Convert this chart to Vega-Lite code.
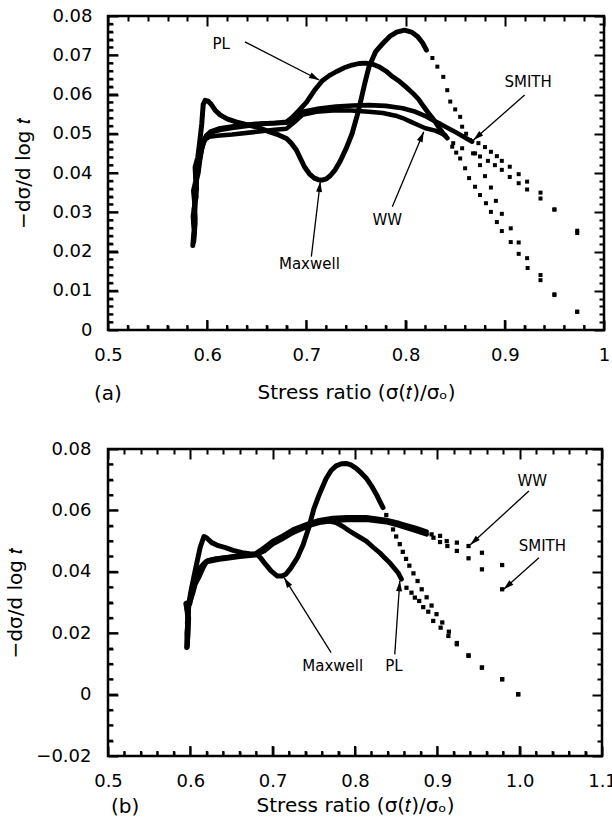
{
"$schema": "https://vega.github.io/schema/vega-lite/v6.json",
"padding": {"left": 4, "top": 5, "right": 0, "bottom": 4},
"spacing": 32,
"background": "white",
"config": {
 "view": {"stroke": "black", "strokeWidth": 2.5},
 "font": "DejaVu Sans",
 "axis": {"grid": false, "domain": false, "ticks": false, "labelFont": "DejaVu Sans", "labelFontSize": 18, "labelColor": "black", "labelFontWeight": "normal", "titleFont": "DejaVu Sans", "titleFontSize": 20, "titleFontWeight": "normal", "titleColor": "black", "labelFlush": false, "labelOverlap": false}
},
"datasets": {
 "aXT": [
  {"v":0.5,"k":"major"},{"v":0.6,"k":"major"},{"v":0.7,"k":"major"},{"v":0.8,"k":"major"},{"v":0.9,"k":"major"},{"v":1,"k":"major"},
  {"v":0.52,"k":"minor"},{"v":0.54,"k":"minor"},{"v":0.56,"k":"minor"},{"v":0.58,"k":"minor"},{"v":0.62,"k":"minor"},{"v":0.64,"k":"minor"},{"v":0.66,"k":"minor"},{"v":0.68,"k":"minor"},{"v":0.72,"k":"minor"},{"v":0.74,"k":"minor"},{"v":0.76,"k":"minor"},{"v":0.78,"k":"minor"},{"v":0.82,"k":"minor"},{"v":0.84,"k":"minor"},{"v":0.86,"k":"minor"},{"v":0.88,"k":"minor"},{"v":0.92,"k":"minor"},{"v":0.94,"k":"minor"},{"v":0.96,"k":"minor"},{"v":0.98,"k":"minor"}
 ],
 "aYT": [
  {"v":0,"k":"major"},{"v":0.01,"k":"major"},{"v":0.02,"k":"major"},{"v":0.03,"k":"major"},{"v":0.04,"k":"major"},{"v":0.05,"k":"major"},{"v":0.06,"k":"major"},{"v":0.07,"k":"major"},{"v":0.08,"k":"major"},
  {"v":0.002,"k":"minor"},{"v":0.004,"k":"minor"},{"v":0.006,"k":"minor"},{"v":0.008,"k":"minor"},{"v":0.012,"k":"minor"},{"v":0.014,"k":"minor"},{"v":0.016,"k":"minor"},{"v":0.018,"k":"minor"},{"v":0.022,"k":"minor"},{"v":0.024,"k":"minor"},{"v":0.026,"k":"minor"},{"v":0.028,"k":"minor"},{"v":0.032,"k":"minor"},{"v":0.034,"k":"minor"},{"v":0.036,"k":"minor"},{"v":0.038,"k":"minor"},{"v":0.042,"k":"minor"},{"v":0.044,"k":"minor"},{"v":0.046,"k":"minor"},{"v":0.048,"k":"minor"},{"v":0.052,"k":"minor"},{"v":0.054,"k":"minor"},{"v":0.056,"k":"minor"},{"v":0.058,"k":"minor"},{"v":0.062,"k":"minor"},{"v":0.064,"k":"minor"},{"v":0.066,"k":"minor"},{"v":0.068,"k":"minor"},{"v":0.072,"k":"minor"},{"v":0.074,"k":"minor"},{"v":0.076,"k":"minor"},{"v":0.078,"k":"minor"}
 ],
 "bXT": [
  {"v":0.5,"k":"major"},{"v":0.6,"k":"major"},{"v":0.7,"k":"major"},{"v":0.8,"k":"major"},{"v":0.9,"k":"major"},{"v":1,"k":"major"},{"v":1.1,"k":"major"},
  {"v":0.52,"k":"minor"},{"v":0.54,"k":"minor"},{"v":0.56,"k":"minor"},{"v":0.58,"k":"minor"},{"v":0.62,"k":"minor"},{"v":0.64,"k":"minor"},{"v":0.66,"k":"minor"},{"v":0.68,"k":"minor"},{"v":0.72,"k":"minor"},{"v":0.74,"k":"minor"},{"v":0.76,"k":"minor"},{"v":0.78,"k":"minor"},{"v":0.82,"k":"minor"},{"v":0.84,"k":"minor"},{"v":0.86,"k":"minor"},{"v":0.88,"k":"minor"},{"v":0.92,"k":"minor"},{"v":0.94,"k":"minor"},{"v":0.96,"k":"minor"},{"v":0.98,"k":"minor"},{"v":1.02,"k":"minor"},{"v":1.04,"k":"minor"},{"v":1.06,"k":"minor"},{"v":1.08,"k":"minor"}
 ],
 "bYT": [
  {"v":-0.02,"k":"major"},{"v":0,"k":"major"},{"v":0.02,"k":"major"},{"v":0.04,"k":"major"},{"v":0.06,"k":"major"},{"v":0.08,"k":"major"},
  {"v":-0.015,"k":"minor"},{"v":-0.01,"k":"minor"},{"v":-0.005,"k":"minor"},{"v":0.005,"k":"minor"},{"v":0.01,"k":"minor"},{"v":0.015,"k":"minor"},{"v":0.025,"k":"minor"},{"v":0.03,"k":"minor"},{"v":0.035,"k":"minor"},{"v":0.045,"k":"minor"},{"v":0.05,"k":"minor"},{"v":0.055,"k":"minor"},{"v":0.065,"k":"minor"},{"v":0.07,"k":"minor"},{"v":0.075,"k":"minor"}
 ],
 "aLine": [
  {"s":"Maxwell","x":0.5855,"y":0.0215},{"s":"Maxwell","x":0.5868,"y":0.0255},{"s":"Maxwell","x":0.5858,"y":0.029},{"s":"Maxwell","x":0.5875,"y":0.032},{"s":"Maxwell","x":0.5862,"y":0.0355},{"s":"Maxwell","x":0.5885,"y":0.038},{"s":"Maxwell","x":0.5878,"y":0.0415},{"s":"Maxwell","x":0.5905,"y":0.044},{"s":"Maxwell","x":0.5925,"y":0.048},{"s":"Maxwell","x":0.5945,"y":0.0525},{"s":"Maxwell","x":0.596,"y":0.0575},{"s":"Maxwell","x":0.598,"y":0.0585},{"s":"Maxwell","x":0.601,"y":0.0583},{"s":"Maxwell","x":0.604,"y":0.0575},{"s":"Maxwell","x":0.608,"y":0.056},{"s":"Maxwell","x":0.613,"y":0.0548},{"s":"Maxwell","x":0.62,"y":0.0538},{"s":"Maxwell","x":0.629,"y":0.053},{"s":"Maxwell","x":0.64,"y":0.0523},{"s":"Maxwell","x":0.649,"y":0.0518},{"s":"Maxwell","x":0.663,"y":0.0505},{"s":"Maxwell","x":0.672,"y":0.0497},{"s":"Maxwell","x":0.68,"y":0.0488},{"s":"Maxwell","x":0.685,"y":0.0475},{"s":"Maxwell","x":0.69,"y":0.0458},{"s":"Maxwell","x":0.694,"y":0.0437},{"s":"Maxwell","x":0.698,"y":0.0416},{"s":"Maxwell","x":0.703,"y":0.0398},{"s":"Maxwell","x":0.708,"y":0.0387},{"s":"Maxwell","x":0.712,"y":0.0383},{"s":"Maxwell","x":0.716,"y":0.0382},{"s":"Maxwell","x":0.72,"y":0.0385},{"s":"Maxwell","x":0.724,"y":0.0393},{"s":"Maxwell","x":0.729,"y":0.0408},{"s":"Maxwell","x":0.734,"y":0.043},{"s":"Maxwell","x":0.74,"y":0.0462},{"s":"Maxwell","x":0.746,"y":0.05},{"s":"Maxwell","x":0.751,"y":0.0545},{"s":"Maxwell","x":0.755,"y":0.0586},{"s":"Maxwell","x":0.759,"y":0.063},{"s":"Maxwell","x":0.763,"y":0.067},{"s":"Maxwell","x":0.77,"y":0.071},{"s":"Maxwell","x":0.777,"y":0.073},{"s":"Maxwell","x":0.784,"y":0.0748},{"s":"Maxwell","x":0.791,"y":0.0759},{"s":"Maxwell","x":0.799,"y":0.0764},{"s":"Maxwell","x":0.806,"y":0.0759},{"s":"Maxwell","x":0.812,"y":0.0748},{"s":"Maxwell","x":0.817,"y":0.0732},{"s":"Maxwell","x":0.821,"y":0.0713},
  {"s":"PL","x":0.5865,"y":0.0225},{"s":"PL","x":0.5878,"y":0.027},{"s":"PL","x":0.5868,"y":0.031},{"s":"PL","x":0.589,"y":0.034},{"s":"PL","x":0.5882,"y":0.037},{"s":"PL","x":0.591,"y":0.04},{"s":"PL","x":0.5925,"y":0.043},{"s":"PL","x":0.5945,"y":0.046},{"s":"PL","x":0.597,"y":0.0485},{"s":"PL","x":0.6,"y":0.0497},{"s":"PL","x":0.605,"y":0.0505},{"s":"PL","x":0.613,"y":0.051},{"s":"PL","x":0.625,"y":0.0515},{"s":"PL","x":0.64,"y":0.052},{"s":"PL","x":0.655,"y":0.0525},{"s":"PL","x":0.668,"y":0.0527},{"s":"PL","x":0.68,"y":0.053},{"s":"PL","x":0.686,"y":0.0542},{"s":"PL","x":0.692,"y":0.0558},{"s":"PL","x":0.7,"y":0.058},{"s":"PL","x":0.708,"y":0.061},{"s":"PL","x":0.716,"y":0.0635},{"s":"PL","x":0.723,"y":0.0648},{"s":"PL","x":0.73,"y":0.0658},{"s":"PL","x":0.738,"y":0.0668},{"s":"PL","x":0.746,"y":0.0675},{"s":"PL","x":0.753,"y":0.0679},{"s":"PL","x":0.76,"y":0.068},{"s":"PL","x":0.767,"y":0.0677},{"s":"PL","x":0.773,"y":0.0671},{"s":"PL","x":0.78,"y":0.066},{"s":"PL","x":0.787,"y":0.0645},{"s":"PL","x":0.794,"y":0.0633},{"s":"PL","x":0.8,"y":0.062},{"s":"PL","x":0.807,"y":0.0604},{"s":"PL","x":0.813,"y":0.0588},{"s":"PL","x":0.818,"y":0.057},{"s":"PL","x":0.823,"y":0.0553},{"s":"PL","x":0.828,"y":0.0537},{"s":"PL","x":0.833,"y":0.0518},{"s":"PL","x":0.838,"y":0.05},{"s":"PL","x":0.842,"y":0.0489},
  {"s":"WW","x":0.5872,"y":0.025},{"s":"WW","x":0.5862,"y":0.028},{"s":"WW","x":0.588,"y":0.0315},{"s":"WW","x":0.587,"y":0.0345},{"s":"WW","x":0.5895,"y":0.0375},{"s":"WW","x":0.5888,"y":0.04},{"s":"WW","x":0.5915,"y":0.0425},{"s":"WW","x":0.5935,"y":0.045},{"s":"WW","x":0.5955,"y":0.047},{"s":"WW","x":0.598,"y":0.0485},{"s":"WW","x":0.602,"y":0.0492},{"s":"WW","x":0.61,"y":0.0495},{"s":"WW","x":0.625,"y":0.0498},{"s":"WW","x":0.65,"y":0.0505},{"s":"WW","x":0.668,"y":0.051},{"s":"WW","x":0.68,"y":0.0513},{"s":"WW","x":0.688,"y":0.053},{"s":"WW","x":0.696,"y":0.0548},{"s":"WW","x":0.71,"y":0.0556},{"s":"WW","x":0.73,"y":0.056},{"s":"WW","x":0.745,"y":0.0559},{"s":"WW","x":0.763,"y":0.0556},{"s":"WW","x":0.777,"y":0.0553},{"s":"WW","x":0.79,"y":0.0546},{"s":"WW","x":0.797,"y":0.054},{"s":"WW","x":0.805,"y":0.0531},{"s":"WW","x":0.812,"y":0.0523},{"s":"WW","x":0.82,"y":0.0514},{"s":"WW","x":0.83,"y":0.0508},{"s":"WW","x":0.84,"y":0.0496},
  {"s":"SMITH","x":0.5865,"y":0.0235},{"s":"SMITH","x":0.588,"y":0.0285},{"s":"SMITH","x":0.5873,"y":0.033},{"s":"SMITH","x":0.5895,"y":0.036},{"s":"SMITH","x":0.5885,"y":0.039},{"s":"SMITH","x":0.591,"y":0.0415},{"s":"SMITH","x":0.593,"y":0.0445},{"s":"SMITH","x":0.5955,"y":0.0475},{"s":"SMITH","x":0.599,"y":0.0495},{"s":"SMITH","x":0.603,"y":0.0505},{"s":"SMITH","x":0.613,"y":0.0514},{"s":"SMITH","x":0.63,"y":0.052},{"s":"SMITH","x":0.649,"y":0.0525},{"s":"SMITH","x":0.665,"y":0.0527},{"s":"SMITH","x":0.68,"y":0.0528},{"s":"SMITH","x":0.688,"y":0.0542},{"s":"SMITH","x":0.696,"y":0.0556},{"s":"SMITH","x":0.713,"y":0.0564},{"s":"SMITH","x":0.73,"y":0.0569},{"s":"SMITH","x":0.747,"y":0.0572},{"s":"SMITH","x":0.763,"y":0.0573},{"s":"SMITH","x":0.78,"y":0.0571},{"s":"SMITH","x":0.797,"y":0.0565},{"s":"SMITH","x":0.81,"y":0.0556},{"s":"SMITH","x":0.82,"y":0.0545},{"s":"SMITH","x":0.827,"y":0.0535},{"s":"SMITH","x":0.835,"y":0.0525},{"s":"SMITH","x":0.843,"y":0.0514},{"s":"SMITH","x":0.851,"y":0.0503},{"s":"SMITH","x":0.858,"y":0.0493},{"s":"SMITH","x":0.867,"y":0.048}
 ],
 "aDot": [
  {"s":"Maxwell","x":0.827,"y":0.0693},{"s":"Maxwell","x":0.832,"y":0.0671},{"s":"Maxwell","x":0.838,"y":0.0645},{"s":"Maxwell","x":0.842,"y":0.0611},{"s":"Maxwell","x":0.845,"y":0.0582},{"s":"Maxwell","x":0.85,"y":0.0562},{"s":"Maxwell","x":0.855,"y":0.0543},{"s":"Maxwell","x":0.857,"y":0.0518},{"s":"Maxwell","x":0.861,"y":0.05},{"s":"Maxwell","x":0.865,"y":0.0484},{"s":"Maxwell","x":0.87,"y":0.045},{"s":"Maxwell","x":0.875,"y":0.042},{"s":"Maxwell","x":0.88,"y":0.0392},{"s":"Maxwell","x":0.886,"y":0.0363},{"s":"Maxwell","x":0.891,"y":0.0329},{"s":"Maxwell","x":0.897,"y":0.0296},{"s":"Maxwell","x":0.906,"y":0.0259},{"s":"Maxwell","x":0.914,"y":0.0223},{"s":"Maxwell","x":0.9225,"y":0.0183},{"s":"Maxwell","x":0.936,"y":0.014},{"s":"Maxwell","x":0.95,"y":0.0091},{"s":"Maxwell","x":0.973,"y":0.0047},
  {"s":"PL","x":0.847,"y":0.0467},{"s":"PL","x":0.851,"y":0.0452},{"s":"PL","x":0.855,"y":0.0437},{"s":"PL","x":0.86,"y":0.0412},{"s":"PL","x":0.864,"y":0.0387},{"s":"PL","x":0.87,"y":0.0365},{"s":"PL","x":0.875,"y":0.0344},{"s":"PL","x":0.881,"y":0.0323},{"s":"PL","x":0.886,"y":0.0301},{"s":"PL","x":0.892,"y":0.0275},{"s":"PL","x":0.897,"y":0.0252},{"s":"PL","x":0.906,"y":0.0224},{"s":"PL","x":0.914,"y":0.0194},{"s":"PL","x":0.923,"y":0.0158},{"s":"PL","x":0.936,"y":0.0127},{"s":"PL","x":0.95,"y":0.0089},{"s":"PL","x":0.973,"y":0.0046},
  {"s":"WW","x":0.848,"y":0.0476},{"s":"WW","x":0.857,"y":0.0463},{"s":"WW","x":0.868,"y":0.045},{"s":"WW","x":0.875,"y":0.0442},{"s":"WW","x":0.883,"y":0.0431},{"s":"WW","x":0.89,"y":0.042},{"s":"WW","x":0.897,"y":0.0408},{"s":"WW","x":0.905,"y":0.039},{"s":"WW","x":0.914,"y":0.0374},{"s":"WW","x":0.9225,"y":0.0358},{"s":"WW","x":0.936,"y":0.0335},{"s":"WW","x":0.95,"y":0.0307},{"s":"WW","x":0.973,"y":0.0247},
  {"s":"SMITH","x":0.8734,"y":0.0476},{"s":"SMITH","x":0.88,"y":0.0466},{"s":"SMITH","x":0.886,"y":0.0454},{"s":"SMITH","x":0.892,"y":0.0443},{"s":"SMITH","x":0.897,"y":0.0431},{"s":"SMITH","x":0.905,"y":0.0416},{"s":"SMITH","x":0.914,"y":0.0397},{"s":"SMITH","x":0.9225,"y":0.0378},{"s":"SMITH","x":0.936,"y":0.035},{"s":"SMITH","x":0.95,"y":0.0307},{"s":"SMITH","x":0.973,"y":0.0253}
 ],
 "aText": [
  {"label":"PL","x":0.614,"y":0.0729},{"label":"Maxwell","x":0.703,"y":0.0168},{"label":"WW","x":0.7816,"y":0.028},{"label":"SMITH","x":0.9235,"y":0.0633}
 ],
 "aArrow": [
  {"x":0.638,"y":0.0734,"x2":0.713,"y2":0.0637},{"x":0.705,"y":0.0187,"x2":0.714,"y2":0.0378},{"x":0.7866,"y":0.0314,"x2":0.8183,"y2":0.0505},{"x":0.92,"y":0.0599,"x2":0.8684,"y2":0.0484}
 ],
 "bLine": [
  {"s":"Maxwell","x":0.5955,"y":0.0153},{"s":"Maxwell","x":0.5965,"y":0.019},{"s":"Maxwell","x":0.597,"y":0.023},{"s":"Maxwell","x":0.5975,"y":0.027},{"s":"Maxwell","x":0.599,"y":0.031},{"s":"Maxwell","x":0.601,"y":0.034},{"s":"Maxwell","x":0.604,"y":0.038},{"s":"Maxwell","x":0.608,"y":0.043},{"s":"Maxwell","x":0.612,"y":0.048},{"s":"Maxwell","x":0.6165,"y":0.0515},{"s":"Maxwell","x":0.62,"y":0.051},{"s":"Maxwell","x":0.626,"y":0.0495},{"s":"Maxwell","x":0.634,"y":0.0485},{"s":"Maxwell","x":0.6426,"y":0.0479},{"s":"Maxwell","x":0.652,"y":0.047},{"s":"Maxwell","x":0.663,"y":0.0462},{"s":"Maxwell","x":0.672,"y":0.0459},{"s":"Maxwell","x":0.681,"y":0.0457},{"s":"Maxwell","x":0.686,"y":0.0443},{"s":"Maxwell","x":0.6915,"y":0.0424},{"s":"Maxwell","x":0.698,"y":0.0403},{"s":"Maxwell","x":0.7057,"y":0.0386},{"s":"Maxwell","x":0.711,"y":0.0386},{"s":"Maxwell","x":0.716,"y":0.0392},{"s":"Maxwell","x":0.722,"y":0.0412},{"s":"Maxwell","x":0.73,"y":0.0446},{"s":"Maxwell","x":0.737,"y":0.0488},{"s":"Maxwell","x":0.744,"y":0.0545},{"s":"Maxwell","x":0.75,"y":0.0605},{"s":"Maxwell","x":0.7566,"y":0.0652},{"s":"Maxwell","x":0.7648,"y":0.0703},{"s":"Maxwell","x":0.771,"y":0.073},{"s":"Maxwell","x":0.777,"y":0.0745},{"s":"Maxwell","x":0.7835,"y":0.0752},{"s":"Maxwell","x":0.7893,"y":0.0753},{"s":"Maxwell","x":0.795,"y":0.0748},{"s":"Maxwell","x":0.8015,"y":0.0737},{"s":"Maxwell","x":0.8075,"y":0.0722},{"s":"Maxwell","x":0.8137,"y":0.0705},{"s":"Maxwell","x":0.82,"y":0.068},{"s":"Maxwell","x":0.826,"y":0.0652},{"s":"Maxwell","x":0.83,"y":0.063},{"s":"Maxwell","x":0.834,"y":0.0609},
  {"s":"PL","x":0.5965,"y":0.017},{"s":"PL","x":0.5975,"y":0.021},{"s":"PL","x":0.598,"y":0.025},{"s":"PL","x":0.5945,"y":0.0295},{"s":"PL","x":0.6,"y":0.0305},{"s":"PL","x":0.603,"y":0.033},{"s":"PL","x":0.606,"y":0.036},{"s":"PL","x":0.61,"y":0.038},{"s":"PL","x":0.615,"y":0.041},{"s":"PL","x":0.62,"y":0.0435},{"s":"PL","x":0.63,"y":0.0442},{"s":"PL","x":0.6426,"y":0.0446},{"s":"PL","x":0.66,"y":0.0452},{"s":"PL","x":0.679,"y":0.0457},{"s":"PL","x":0.69,"y":0.0475},{"s":"PL","x":0.7,"y":0.0495},{"s":"PL","x":0.7118,"y":0.051},{"s":"PL","x":0.725,"y":0.053},{"s":"PL","x":0.732,"y":0.0543},{"s":"PL","x":0.744,"y":0.0555},{"s":"PL","x":0.7566,"y":0.0565},{"s":"PL","x":0.767,"y":0.0566},{"s":"PL","x":0.777,"y":0.056},{"s":"PL","x":0.785,"y":0.0548},{"s":"PL","x":0.7933,"y":0.0533},{"s":"PL","x":0.803,"y":0.0517},{"s":"PL","x":0.8137,"y":0.05},{"s":"PL","x":0.822,"y":0.048},{"s":"PL","x":0.83,"y":0.0462},{"s":"PL","x":0.836,"y":0.0446},{"s":"PL","x":0.842,"y":0.043},{"s":"PL","x":0.847,"y":0.0414},{"s":"PL","x":0.8523,"y":0.0397},{"s":"PL","x":0.8564,"y":0.0376},
  {"s":"WW","x":0.596,"y":0.016},{"s":"WW","x":0.5955,"y":0.02},{"s":"WW","x":0.597,"y":0.024},{"s":"WW","x":0.5955,"y":0.028},{"s":"WW","x":0.5985,"y":0.03},{"s":"WW","x":0.6005,"y":0.0315},{"s":"WW","x":0.604,"y":0.035},{"s":"WW","x":0.608,"y":0.039},{"s":"WW","x":0.612,"y":0.0415},{"s":"WW","x":0.618,"y":0.0432},{"s":"WW","x":0.622,"y":0.0438},{"s":"WW","x":0.635,"y":0.0444},{"s":"WW","x":0.6426,"y":0.0447},{"s":"WW","x":0.66,"y":0.0453},{"s":"WW","x":0.679,"y":0.0459},{"s":"WW","x":0.69,"y":0.048},{"s":"WW","x":0.7,"y":0.05},{"s":"WW","x":0.7118,"y":0.0517},{"s":"WW","x":0.725,"y":0.0538},{"s":"WW","x":0.744,"y":0.0558},{"s":"WW","x":0.7566,"y":0.0568},{"s":"WW","x":0.773,"y":0.0575},{"s":"WW","x":0.79,"y":0.0578},{"s":"WW","x":0.8137,"y":0.0578},{"s":"WW","x":0.838,"y":0.0569},{"s":"WW","x":0.8544,"y":0.0558},{"s":"WW","x":0.8748,"y":0.0542},{"s":"WW","x":0.887,"y":0.0531},
  {"s":"SMITH","x":0.5965,"y":0.0155},{"s":"SMITH","x":0.597,"y":0.0195},{"s":"SMITH","x":0.5962,"y":0.0235},{"s":"SMITH","x":0.598,"y":0.027},{"s":"SMITH","x":0.5948,"y":0.0298},{"s":"SMITH","x":0.5995,"y":0.0295},{"s":"SMITH","x":0.602,"y":0.033},{"s":"SMITH","x":0.606,"y":0.037},{"s":"SMITH","x":0.61,"y":0.04},{"s":"SMITH","x":0.616,"y":0.0425},{"s":"SMITH","x":0.62,"y":0.0432},{"s":"SMITH","x":0.635,"y":0.044},{"s":"SMITH","x":0.6426,"y":0.0443},{"s":"SMITH","x":0.66,"y":0.0449},{"s":"SMITH","x":0.679,"y":0.0454},{"s":"SMITH","x":0.69,"y":0.0468},{"s":"SMITH","x":0.7,"y":0.049},{"s":"SMITH","x":0.7118,"y":0.0507},{"s":"SMITH","x":0.725,"y":0.0528},{"s":"SMITH","x":0.744,"y":0.055},{"s":"SMITH","x":0.7566,"y":0.056},{"s":"SMITH","x":0.773,"y":0.0566},{"s":"SMITH","x":0.79,"y":0.0569},{"s":"SMITH","x":0.8137,"y":0.057},{"s":"SMITH","x":0.838,"y":0.0562},{"s":"SMITH","x":0.8544,"y":0.055},{"s":"SMITH","x":0.8748,"y":0.0533},{"s":"SMITH","x":0.887,"y":0.0522}
 ],
 "bDot": [
  {"s":"Maxwell","x":0.838,"y":0.0585},{"s":"Maxwell","x":0.8413,"y":0.0565},{"s":"Maxwell","x":0.8462,"y":0.0538},{"s":"Maxwell","x":0.85,"y":0.0515},{"s":"Maxwell","x":0.8544,"y":0.049},{"s":"Maxwell","x":0.858,"y":0.0465},{"s":"Maxwell","x":0.862,"y":0.0442},{"s":"Maxwell","x":0.866,"y":0.042},{"s":"Maxwell","x":0.871,"y":0.0395},{"s":"Maxwell","x":0.876,"y":0.037},{"s":"Maxwell","x":0.881,"y":0.0343},{"s":"Maxwell","x":0.887,"y":0.0317},{"s":"Maxwell","x":0.893,"y":0.029},{"s":"Maxwell","x":0.899,"y":0.0262},{"s":"Maxwell","x":0.906,"y":0.0235},{"s":"Maxwell","x":0.914,"y":0.0205},{"s":"Maxwell","x":0.9237,"y":0.0168},{"s":"Maxwell","x":0.9379,"y":0.0128},{"s":"Maxwell","x":0.9542,"y":0.0088},{"s":"Maxwell","x":0.9787,"y":0.005},{"s":"Maxwell","x":0.9982,"y":0.0001},
  {"s":"PL","x":0.8625,"y":0.0348},{"s":"PL","x":0.8686,"y":0.0332},{"s":"PL","x":0.8727,"y":0.0316},{"s":"PL","x":0.878,"y":0.0305},{"s":"PL","x":0.8829,"y":0.0285},{"s":"PL","x":0.889,"y":0.027},{"s":"PL","x":0.895,"y":0.024},{"s":"PL","x":0.904,"y":0.0218},{"s":"PL","x":0.9134,"y":0.0191},{"s":"PL","x":0.9237,"y":0.0164},{"s":"PL","x":0.9379,"y":0.0126},{"s":"PL","x":0.9542,"y":0.0088},{"s":"PL","x":0.9787,"y":0.005},{"s":"PL","x":0.9982,"y":0.0001},
  {"s":"WW","x":0.893,"y":0.0522},{"s":"WW","x":0.9033,"y":0.0517},{"s":"WW","x":0.9114,"y":0.05},{"s":"WW","x":0.9237,"y":0.0495},{"s":"WW","x":0.9379,"y":0.0484},{"s":"WW","x":0.9542,"y":0.0462},{"s":"WW","x":0.9787,"y":0.0422},
  {"s":"SMITH","x":0.8953,"y":0.0511},{"s":"SMITH","x":0.9033,"y":0.0497},{"s":"SMITH","x":0.9122,"y":0.0484},{"s":"SMITH","x":0.9237,"y":0.0468},{"s":"SMITH","x":0.9379,"y":0.0444},{"s":"SMITH","x":0.9542,"y":0.0408},{"s":"SMITH","x":0.9787,"y":0.0343}
 ],
 "bText": [
  {"label":"WW","x":1.0153,"y":0.0696},{"label":"SMITH","x":1.0276,"y":0.0484},{"label":"Maxwell","x":0.7729,"y":0.0093},{"label":"PL","x":0.8474,"y":0.0093}
 ],
 "bArrow": [
  {"x":1.0112,"y":0.0663,"x2":0.94,"y2":0.0488},{"x":1.0234,"y":0.0446,"x2":0.9806,"y2":0.0343},{"x":0.771,"y":0.0137,"x2":0.7139,"y2":0.0381},{"x":0.8483,"y":0.0131,"x2":0.8544,"y2":0.037}
 ]
},
"vconcat": [
 {
  "width": 496, "height": 314,
  "title": {"text": "(a)", "orient": "bottom", "anchor": "start", "frame": "group", "offset": -18, "dx": -14, "fontSize": 20, "fontWeight": "normal", "font": "DejaVu Sans", "color": "black"},
  "resolve": {"axis": {"x": "independent", "y": "independent"}},
  "layer": [
   {"data": {"name": "aLine"},
    "mark": {"type": "line", "color": "black", "strokeJoin": "round", "strokeCap": "round"},
    "encoding": {
     "x": {"field": "x", "type": "quantitative", "scale": {"domain": [0.5, 1], "nice": false, "zero": false},
       "axis": {"orient": "bottom", "values": [0.5,0.6,0.7,0.8,0.9,1], "format": ".1~f", "labelPadding": 16, "title": "Stress ratio (σ(𝑡)/σₒ)", "titlePadding": 18}},
     "y": {"field": "y", "type": "quantitative", "scale": {"domain": [0, 0.08], "nice": false, "zero": false},
       "axis": {"orient": "left", "values": [0,0.01,0.02,0.03,0.04,0.05,0.06,0.07,0.08], "format": ".2~f", "labelPadding": 16, "title": "−dσ/d log 𝑡", "titlePadding": 18}},
     "detail": {"field": "s"},
     "order": {"value": null},
     "strokeWidth": {"field": "s", "type": "nominal", "scale": {"domain": ["Maxwell","PL","SMITH","WW"], "range": [5, 4.5, 4, 2.8]}, "legend": null}
    }},
   {"data": {"name": "aDot"},
    "mark": {"type": "point", "filled": true, "shape": "square", "color": "black", "opacity": 1, "size": 16},
    "encoding": {
     "x": {"field": "x", "type": "quantitative", "scale": {"domain": [0.5, 1], "nice": false, "zero": false},
       "axis": {"orient": "top", "values": [0.5,0.6,0.7,0.8,0.9,1], "labels": false, "title": null, "grid": true, "gridColor": "black", "gridOpacity": 1, "gridWidth": 2, "gridDash": [10, 294, 10, 3000]}},
     "y": {"field": "y", "type": "quantitative", "scale": {"domain": [0, 0.08], "nice": false, "zero": false},
       "axis": {"orient": "right", "values": [0,0.01,0.02,0.03,0.04,0.05,0.06,0.07,0.08], "labels": false, "title": null, "grid": true, "gridColor": "black", "gridOpacity": 1, "gridWidth": 2, "gridDash": [10, 476, 10, 3000]}}
    }},
   {"data": {"name": "aArrow"},
    "mark": {"type": "rule", "color": "black", "strokeWidth": 1.3},
    "encoding": {
     "x": {"field": "x", "type": "quantitative", "scale": {"domain": [0.5, 1], "nice": false, "zero": false},
       "axis": {"orient": "top", "values": [0.52,0.54,0.56,0.58,0.62,0.64,0.66,0.68,0.72,0.74,0.76,0.78,0.82,0.84,0.86,0.88,0.92,0.94,0.96,0.98], "labels": false, "title": null, "grid": true, "gridColor": "black", "gridOpacity": 1, "gridWidth": 2, "gridDash": [5, 304, 5, 3000]}},
     "y": {"field": "y", "type": "quantitative", "scale": {"domain": [0, 0.08], "nice": false, "zero": false},
       "axis": {"orient": "right", "values": [0.002,0.004,0.006,0.008,0.012,0.014,0.016,0.018,0.022,0.024,0.026,0.028,0.032,0.034,0.036,0.038,0.042,0.044,0.046,0.048,0.052,0.054,0.056,0.058,0.062,0.064,0.066,0.068,0.072,0.074,0.076,0.078], "labels": false, "title": null, "grid": true, "gridColor": "black", "gridOpacity": 1, "gridWidth": 2, "gridDash": [5, 486, 5, 3000]}},
     "x2": {"field": "x2"},
     "y2": {"field": "y2"}
    }},
   {"data": {"name": "aArrow"},
    "transform": [{"calculate": "atan2((datum.x2 - datum.x) * 992, (datum.y2 - datum.y) * 3925) * 180 / PI", "as": "ang"}],
    "mark": {"type": "point", "filled": true, "shape": "M0,0L-0.38,1.3L0.38,1.3Z", "size": 250, "color": "black", "opacity": 1},
    "encoding": {
     "x": {"field": "x2", "type": "quantitative", "scale": {"domain": [0.5, 1], "nice": false, "zero": false}, "axis": null},
     "y": {"field": "y2", "type": "quantitative", "scale": {"domain": [0, 0.08], "nice": false, "zero": false}, "axis": null},
     "angle": {"field": "ang", "type": "quantitative", "scale": null}
    }},
   {"data": {"name": "aText"},
    "mark": {"type": "text", "font": "DejaVu Sans", "fontSize": 15, "color": "black", "align": "center", "baseline": "middle"},
    "encoding": {
     "x": {"field": "x", "type": "quantitative", "scale": {"domain": [0.5, 1], "nice": false, "zero": false}, "axis": null},
     "y": {"field": "y", "type": "quantitative", "scale": {"domain": [0, 0.08], "nice": false, "zero": false}, "axis": null},
     "text": {"field": "label"}
    }},
   {"data": {"name": "aXT"}, "transform": [{"filter": "datum.k == 'major'"}],
    "mark": {"type": "rule", "color": "black", "strokeWidth": 2},
    "encoding": {
     "x": {"field": "v", "type": "quantitative", "scale": {"domain": [0.5, 1], "nice": false, "zero": false}, "axis": null},
     "y": {"datum": 0, "type": "quantitative", "scale": {"domain": [0, 0.08], "nice": false, "zero": false}, "axis": null},
     "y2": {"datum": 0.00255}
    }},
   {"data": {"name": "aXT"}, "transform": [{"filter": "datum.k == 'minor'"}],
    "mark": {"type": "rule", "color": "black", "strokeWidth": 2},
    "encoding": {
     "x": {"field": "v", "type": "quantitative", "scale": {"domain": [0.5, 1], "nice": false, "zero": false}, "axis": null},
     "y": {"datum": 0, "type": "quantitative", "scale": {"domain": [0, 0.08], "nice": false, "zero": false}, "axis": null},
     "y2": {"datum": 0.00127}
    }},
   {"data": {"name": "aYT"}, "transform": [{"filter": "datum.k == 'major'"}],
    "mark": {"type": "rule", "color": "black", "strokeWidth": 2},
    "encoding": {
     "y": {"field": "v", "type": "quantitative", "scale": {"domain": [0, 0.08], "nice": false, "zero": false}, "axis": null},
     "x": {"datum": 0.5, "type": "quantitative", "scale": {"domain": [0.5, 1], "nice": false, "zero": false}, "axis": null},
     "x2": {"datum": 0.51008}
    }},
   {"data": {"name": "aYT"}, "transform": [{"filter": "datum.k == 'minor'"}],
    "mark": {"type": "rule", "color": "black", "strokeWidth": 2},
    "encoding": {
     "y": {"field": "v", "type": "quantitative", "scale": {"domain": [0, 0.08], "nice": false, "zero": false}, "axis": null},
     "x": {"datum": 0.5, "type": "quantitative", "scale": {"domain": [0.5, 1], "nice": false, "zero": false}, "axis": null},
     "x2": {"datum": 0.50504}
    }}
  ]
 },
 {
  "width": 494, "height": 307,
  "title": {"text": "(b)", "orient": "bottom", "anchor": "start", "frame": "group", "offset": -18, "dx": 3, "fontSize": 20, "fontWeight": "normal", "font": "DejaVu Sans", "color": "black"},
  "resolve": {"axis": {"x": "independent", "y": "independent"}},
  "layer": [
   {"data": {"name": "bLine"},
    "mark": {"type": "line", "color": "black", "strokeJoin": "round", "strokeCap": "round"},
    "encoding": {
     "x": {"field": "x", "type": "quantitative", "scale": {"domain": [0.5, 1.1], "nice": false, "zero": false},
       "axis": {"orient": "bottom", "values": [0.5,0.6,0.7,0.8,0.9,1,1.1], "format": ".1f", "labelPadding": 16, "title": "Stress ratio (σ(𝑡)/σₒ)", "titlePadding": 5}},
     "y": {"field": "y", "type": "quantitative", "scale": {"domain": [-0.02, 0.08], "nice": false, "zero": false},
       "axis": {"orient": "left", "values": [-0.02,0,0.02,0.04,0.06,0.08], "format": ".2~f", "labelPadding": 17, "title": "−dσ/d log 𝑡", "titlePadding": 10}},
     "detail": {"field": "s"},
     "order": {"value": null},
     "strokeWidth": {"field": "s", "type": "nominal", "scale": {"domain": ["Maxwell","PL","SMITH","WW"], "range": [4.5, 4, 4, 4]}, "legend": null}
    }},
   {"data": {"name": "bDot"},
    "mark": {"type": "point", "filled": true, "shape": "square", "color": "black", "opacity": 1, "size": 18},
    "encoding": {
     "x": {"field": "x", "type": "quantitative", "scale": {"domain": [0.5, 1.1], "nice": false, "zero": false},
       "axis": {"orient": "top", "values": [0.5,0.6,0.7,0.8,0.9,1,1.1], "labels": false, "title": null, "grid": true, "gridColor": "black", "gridOpacity": 1, "gridWidth": 2, "gridDash": [10, 287, 10, 3000]}},
     "y": {"field": "y", "type": "quantitative", "scale": {"domain": [-0.02, 0.08], "nice": false, "zero": false},
       "axis": {"orient": "right", "values": [-0.02,0,0.02,0.04,0.06,0.08], "labels": false, "title": null, "grid": true, "gridColor": "black", "gridOpacity": 1, "gridWidth": 2, "gridDash": [10, 474, 10, 3000]}}
    }},
   {"data": {"name": "bArrow"},
    "mark": {"type": "rule", "color": "black", "strokeWidth": 1.3},
    "encoding": {
     "x": {"field": "x", "type": "quantitative", "scale": {"domain": [0.5, 1.1], "nice": false, "zero": false},
       "axis": {"orient": "top", "values": [0.52,0.54,0.56,0.58,0.62,0.64,0.66,0.68,0.72,0.74,0.76,0.78,0.82,0.84,0.86,0.88,0.92,0.94,0.96,0.98,1.02,1.04,1.06,1.08], "labels": false, "title": null, "grid": true, "gridColor": "black", "gridOpacity": 1, "gridWidth": 2, "gridDash": [5, 297, 5, 3000]}},
     "y": {"field": "y", "type": "quantitative", "scale": {"domain": [-0.02, 0.08], "nice": false, "zero": false},
       "axis": {"orient": "right", "values": [-0.015,-0.01,-0.005,0.005,0.01,0.015,0.025,0.03,0.035,0.045,0.05,0.055,0.065,0.07,0.075], "labels": false, "title": null, "grid": true, "gridColor": "black", "gridOpacity": 1, "gridWidth": 2, "gridDash": [5, 484, 5, 3000]}},
     "x2": {"field": "x2"},
     "y2": {"field": "y2"}
    }},
   {"data": {"name": "bArrow"},
    "transform": [{"calculate": "atan2((datum.x2 - datum.x) * 823.3, (datum.y2 - datum.y) * 3070) * 180 / PI", "as": "ang"}],
    "mark": {"type": "point", "filled": true, "shape": "M0,0L-0.38,1.3L0.38,1.3Z", "size": 250, "color": "black", "opacity": 1},
    "encoding": {
     "x": {"field": "x2", "type": "quantitative", "scale": {"domain": [0.5, 1.1], "nice": false, "zero": false}, "axis": null},
     "y": {"field": "y2", "type": "quantitative", "scale": {"domain": [-0.02, 0.08], "nice": false, "zero": false}, "axis": null},
     "angle": {"field": "ang", "type": "quantitative", "scale": null}
    }},
   {"data": {"name": "bText"},
    "mark": {"type": "text", "font": "DejaVu Sans", "fontSize": 15, "color": "black", "align": "center", "baseline": "middle"},
    "encoding": {
     "x": {"field": "x", "type": "quantitative", "scale": {"domain": [0.5, 1.1], "nice": false, "zero": false}, "axis": null},
     "y": {"field": "y", "type": "quantitative", "scale": {"domain": [-0.02, 0.08], "nice": false, "zero": false}, "axis": null},
     "text": {"field": "label"}
    }},
   {"data": {"name": "bXT"}, "transform": [{"filter": "datum.k == 'major'"}],
    "mark": {"type": "rule", "color": "black", "strokeWidth": 2},
    "encoding": {
     "x": {"field": "v", "type": "quantitative", "scale": {"domain": [0.5, 1.1], "nice": false, "zero": false}, "axis": null},
     "y": {"datum": -0.02, "type": "quantitative", "scale": {"domain": [-0.02, 0.08], "nice": false, "zero": false}, "axis": null},
     "y2": {"datum": -0.01674}
    }},
   {"data": {"name": "bXT"}, "transform": [{"filter": "datum.k == 'minor'"}],
    "mark": {"type": "rule", "color": "black", "strokeWidth": 2},
    "encoding": {
     "x": {"field": "v", "type": "quantitative", "scale": {"domain": [0.5, 1.1], "nice": false, "zero": false}, "axis": null},
     "y": {"datum": -0.02, "type": "quantitative", "scale": {"domain": [-0.02, 0.08], "nice": false, "zero": false}, "axis": null},
     "y2": {"datum": -0.01837}
    }},
   {"data": {"name": "bYT"}, "transform": [{"filter": "datum.k == 'major'"}],
    "mark": {"type": "rule", "color": "black", "strokeWidth": 2},
    "encoding": {
     "y": {"field": "v", "type": "quantitative", "scale": {"domain": [-0.02, 0.08], "nice": false, "zero": false}, "axis": null},
     "x": {"datum": 0.5, "type": "quantitative", "scale": {"domain": [0.5, 1.1], "nice": false, "zero": false}, "axis": null},
     "x2": {"datum": 0.51215}
    }},
   {"data": {"name": "bYT"}, "transform": [{"filter": "datum.k == 'minor'"}],
    "mark": {"type": "rule", "color": "black", "strokeWidth": 2},
    "encoding": {
     "y": {"field": "v", "type": "quantitative", "scale": {"domain": [-0.02, 0.08], "nice": false, "zero": false}, "axis": null},
     "x": {"datum": 0.5, "type": "quantitative", "scale": {"domain": [0.5, 1.1], "nice": false, "zero": false}, "axis": null},
     "x2": {"datum": 0.50607}
    }}
  ]
 }
]
}
